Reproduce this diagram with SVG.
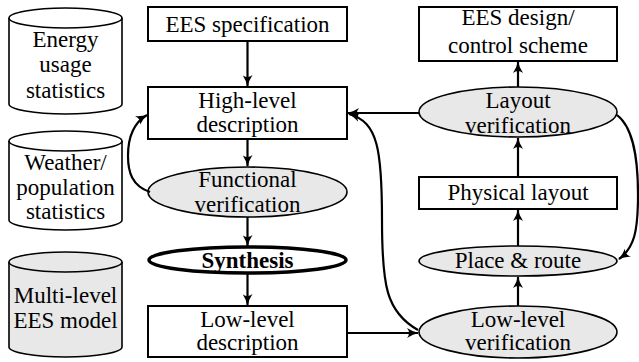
<svg xmlns="http://www.w3.org/2000/svg" width="639" height="362" viewBox="0 0 639 362">
<style>
text{font-family:'Liberation Serif','Times New Roman',serif;font-size:23px;fill:#000;text-anchor:middle}
.box{fill:#fff;stroke:#000;stroke-width:2}
.ell{fill:#e8e8e8;stroke:#000;stroke-width:1.6}
.cyl{stroke:#000;stroke-width:1.6}
.edge{fill:none;stroke:#000;stroke-width:2.2;marker-end:url(#ah)}
</style>
<defs>
<marker id="ah" viewBox="0 0 12 10" refX="11" refY="5" markerWidth="12" markerHeight="10" markerUnits="userSpaceOnUse" orient="auto">
<path d="M0,0 Q6,4 12,5 Q6,6 0,10 Q4,5 0,0 z" fill="#000"/>
</marker>
</defs>
<g id="energy">
<path class="cyl" fill="#fff" d="M9,18 L9,104 A56.5,10 0 0 0 122,104 L122,18"/>
<ellipse class="cyl" fill="#fff" cx="65.5" cy="18" rx="56.5" ry="10"/>
<text x="65.5" y="47">Energy</text><text x="65.5" y="72">usage</text><text x="65.5" y="98">statistics</text>
</g>
<g id="weather">
<path class="cyl" fill="#fff" d="M9,141 L9,220 A56.5,10 0 0 0 122,220 L122,141"/>
<ellipse class="cyl" fill="#fff" cx="65.5" cy="141" rx="56.5" ry="10"/>
<text x="65.5" y="170">Weather/</text><text x="65.5" y="195">population</text><text x="65.5" y="219">statistics</text>
</g>
<g id="model">
<path class="cyl" fill="#e8e8e8" d="M9,262 L9,347 A56.5,10 0 0 0 122,347 L122,262"/>
<ellipse class="cyl" fill="#e8e8e8" cx="65.5" cy="262" rx="56.5" ry="10"/>
<text x="65.5" y="303">Multi-level</text><text x="65.5" y="328">EES model</text>
</g>
<g id="spec"><rect class="box" x="148" y="7" width="199" height="34"/><text x="247.5" y="32">EES specification</text></g>
<g id="high"><rect class="box" x="148" y="87" width="199" height="52"/><text x="247.5" y="108">High-level</text><text x="247.5" y="132">description</text></g>
<g id="func"><ellipse class="ell" cx="247.5" cy="192" rx="99.5" ry="25"/><text x="247.5" y="187">Functional</text><text x="247.5" y="212">verification</text></g>
<g id="synth"><ellipse cx="247.5" cy="260" rx="98.5" ry="13" fill="#fff" stroke="#000" stroke-width="3.5"/><text x="247.5" y="268" font-weight="bold">Synthesis</text></g>
<g id="low"><rect class="box" x="148" y="306" width="199" height="51"/><text x="247.5" y="327">Low-level</text><text x="247.5" y="350">description</text></g>
<g id="design"><rect class="box" x="419" y="7" width="198" height="54"/><text x="518" y="25">EES design/</text><text x="518" y="53">control scheme</text></g>
<g id="layoutv"><ellipse class="ell" cx="518" cy="112" rx="99" ry="25"/><text x="518" y="108">Layout</text><text x="518" y="133">verification</text></g>
<g id="phys"><rect class="box" x="419" y="177" width="198" height="32"/><text x="518" y="200">Physical layout</text></g>
<g id="pr"><ellipse class="ell" cx="518" cy="261" rx="99" ry="15"/><text x="518" y="268">Place &amp; route</text></g>
<g id="lowv"><ellipse class="ell" cx="518" cy="332" rx="99" ry="26"/><text x="518" y="327">Low-level</text><text x="518" y="350">verification</text></g>
<g id="connectors">
<path class="edge" d="M247.5,41 L247.5,86"/>
<path class="edge" d="M247.5,139 L247.5,166"/>
<path class="edge" d="M247.5,217 L247.5,246"/>
<path class="edge" d="M247.5,273 L247.5,305"/>
<path class="edge" d="M347,333 L418,333"/>
<path class="edge" d="M518,306 L518,277"/>
<path class="edge" d="M518,246 L518,210"/>
<path class="edge" d="M518,177 L518,138"/>
<path class="edge" d="M518,87 L518,62"/>
<path class="edge" d="M419,113 L348,113"/>
<path class="edge" d="M150,192 C132,186 128,172 128,156 C128,136 135,122 147,115"/>
<path class="edge" d="M418,330 C386,312 382,285 382,220 C382,150 378,122 349,114"/>
<path class="edge" d="M617,115 C634,128 638,160 638,195 C638,232 634,248 619,259"/>
</g>
</svg>
